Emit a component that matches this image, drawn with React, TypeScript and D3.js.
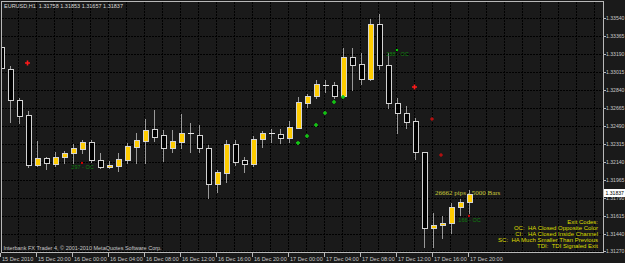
import React from 'react';
import * as d3 from 'd3';

const W = 625;
const H = 263;

// Heikin-Ashi style candles, EURUSD H1, 15 Dec 16:00 .. 17 Dec 20:00
const opens = [1.33258, 1.33043, 1.32741, 1.32595, 1.32108, 1.32176, 1.32118, 1.32186, 1.32225, 1.32264,
  1.32332, 1.32157, 1.32089, 1.32099, 1.32157, 1.32284, 1.32342, 1.32459, 1.32400, 1.32274,
  1.32332, 1.32420, 1.32400, 1.32274, 1.31923, 1.32030, 1.32313, 1.32157, 1.32118, 1.32362,
  1.32420, 1.32410, 1.32371, 1.32469, 1.32712, 1.32780, 1.32887, 1.32887, 1.32780, 1.33160,
  1.33092, 1.32946, 1.33482, 1.33082, 1.32712, 1.32615, 1.32537, 1.32235, 1.31495, 1.31524,
  1.31543, 1.31699, 1.31748];
const highs = [1.33374, 1.33072, 1.32761, 1.32634, 1.32342, 1.32186, 1.32235, 1.32245, 1.32313, 1.32352,
  1.32352, 1.32225, 1.32147, 1.32225, 1.32323, 1.32420, 1.32556, 1.32644, 1.32449, 1.32449,
  1.32605, 1.32517, 1.32498, 1.32303, 1.32060, 1.32352, 1.32352, 1.32186, 1.32391, 1.32439,
  1.32459, 1.32459, 1.32537, 1.32771, 1.32800, 1.32936, 1.32936, 1.32917, 1.33248, 1.33248,
  1.33199, 1.33530, 1.33579, 1.33199, 1.32761, 1.32683, 1.32566, 1.32235, 1.31641, 1.31612,
  1.31738, 1.31777, 1.31865];
const lows = [1.33034, 1.32527, 1.32517, 1.32089, 1.32099, 1.32069, 1.32099, 1.32128, 1.32128, 1.32225,
  1.32137, 1.32079, 1.32079, 1.32050, 1.32128, 1.32128, 1.32128, 1.32342, 1.32147, 1.32235,
  1.32274, 1.32235, 1.32235, 1.31787, 1.31845, 1.31943, 1.32108, 1.32040, 1.32099, 1.32284,
  1.32332, 1.32323, 1.32332, 1.32469, 1.32673, 1.32761, 1.32819, 1.32761, 1.32771, 1.32839,
  1.32897, 1.32936, 1.33043, 1.32663, 1.32420, 1.32469, 1.32167, 1.31310, 1.31310, 1.31397,
  1.31446, 1.31621, 1.31641];
const closes = [1.33053, 1.32741, 1.32586, 1.32108, 1.32176, 1.32128, 1.32186, 1.32225, 1.32274, 1.32332,
  1.32157, 1.32089, 1.32108, 1.32167, 1.32293, 1.32352, 1.32449, 1.32381, 1.32274, 1.32342,
  1.32420, 1.32420, 1.32274, 1.31923, 1.32040, 1.32313, 1.32137, 1.32118, 1.32362, 1.32420,
  1.32420, 1.32371, 1.32478, 1.32722, 1.32780, 1.32897, 1.32887, 1.32780, 1.33160, 1.33082,
  1.32946, 1.33482, 1.33082, 1.32712, 1.32615, 1.32527, 1.32235, 1.31495, 1.31524, 1.31543,
  1.31699, 1.31748, 1.31826];

const timeLabelBars = [0, 4, 8, 12, 16, 20, 24, 28, 32, 36, 40, 44, 48, 52];
const timeLabels = ['15 Dec 2010', '15 Dec 20:00', '16 Dec 00:00', '16 Dec 04:00', '16 Dec 08:00',
  '16 Dec 12:00', '16 Dec 16:00', '16 Dec 20:00', '17 Dec 00:00', '17 Dec 04:00', '17 Dec 08:00',
  '17 Dec 12:00', '17 Dec 16:00', '17 Dec 20:00'];

const priceTicks = [1.3354, 1.33365, 1.3319, 1.33015, 1.3284, 1.32665, 1.3249, 1.32315, 1.3214,
  1.31965, 1.3179, 1.31615, 1.3144, 1.3127];
const priceTickLabels = ['1.33540', '1.33365', '1.33190', '1.33015', '1.32840', '1.32665', '1.32490',
  '1.32315', '1.32140', '1.31965', '1.31790', '1.31615', '1.31440', '1.31270'];

const currentPrice = 1.31837;
const currentPriceLabel = '1.31837';
const titleText = 'EURUSD,H1  1.31758 1.31853 1.31657 1.31837';
const copyrightText = 'Interbank FX Trader 4, \u00a9 2001-2010 MetaQuotes Software Corp.';

// signal markers
const greenArrowBars = [33, 34, 35, 36, 37, 38];
const greenArrowPrices = [1.32323, 1.32391, 1.32498, 1.32615, 1.32722, 1.32771];
const redArrowBars = [3, 46];
const redArrowPrices = [1.33102, 1.32868];
const darkRedArrowBars = [48, 49];
const darkRedArrowPrices = [1.32556, 1.32206];

const exitBars = [9, 44, 52];
const exitPrices = [1.32128, 1.33228, 1.31612];
const exitTexts = ['297 - OC', '288 - OC', '166 - OC'];
const exitDotColors = ['#d00000', '#00d000', '#d00000'];

const statsBar = 48;
const statsPrice = 1.31865;
const statsText = '26662 pips - 5000 Bars';

const legendLines = ['Exit Codes:', 'OC:  HA Closed Opposite Color', 'CI:   HA Closed Inside Channel',
  'SC:  HA Much Smaller Than Previous', 'TDI:  TDI Signaled Exit'];

const SANS = '"Liberation Sans", Arial, sans-serif';
const SERIF = '"Liberation Serif", "Times New Roman", serif';

export default function App() {
  const left = 1, right = 603.5, top = 1, bottom = 252.5;
  const x = d3.scaleLinear().domain([0, 1]).range([1.5, 10.5]);
  const y = d3.scaleLinear().domain([1.3127, 1.3354]).range([251, 18]);
  const gridBars = d3.range(0, 68, 2);

  const bg = '#1a1a1a';
  const grid = '#000000';
  const frame = '#b8b8b8';
  const axisText = '#c8c8c8';

  const cross = (cx: number, cy: number, s: number) =>
    `M${cx - s},${cy}H${cx + s}M${cx},${cy - s}V${cy + s}`;

  return (
    <svg width={W} height={H} style={{ position: 'fixed', left: 0, top: 0, display: 'block' }}
      xmlns="http://www.w3.org/2000/svg">
      <defs>
        <clipPath id="plot">
          <rect x={left + 0.5} y={top + 0.5} width={right - left - 1} height={bottom - top - 1} />
        </clipPath>
      </defs>
      <rect x={0} y={0} width={W} height={H} fill={bg} />

      {/* grid */}
      <g stroke={grid} strokeDasharray="2 1" shapeRendering="crispEdges">
        {priceTicks.map((p, i) => (
          <line key={'h' + i} x1={left + 1} x2={right} y1={Math.round(y(p)) + 0.5} y2={Math.round(y(p)) + 0.5} />
        ))}
        {gridBars.filter((b) => x(b) < right && x(b) > left + 2).map((b) => (
          <line key={'v' + b} x1={Math.floor(x(b)) - 0.5} x2={Math.floor(x(b)) - 0.5} y1={top + 1} y2={bottom} />
        ))}
      </g>

      {/* texts under candles */}
      <text x={4} y={7.5} fontFamily={SANS} fontSize={5.5} fill="#d8d8d8" style={{ whiteSpace: 'pre' }}>{titleText}</text>
      <text x={3.5} y={249.5} fontFamily={SANS} fontSize={5.5} fill={axisText}>{copyrightText}</text>
      <text x={x(statsBar) + 1.5} y={y(statsPrice) + 5} fontFamily={SERIF} fontSize={7} fill="#cccc3a">{statsText}</text>

      <g clipPath="url(#plot)">
        {/* candles */}
        <g shapeRendering="crispEdges">
          {opens.map((o, i) => {
            const c = closes[i];
            const cx = Math.floor(x(i)) + 0.5;
            const yh = Math.round(y(highs[i]));
            const yl = Math.round(y(lows[i]));
            const yt = Math.round(y(Math.max(o, c)));
            const yb = Math.round(y(Math.min(o, c)));
            const bull = c > o;
            const doji = yt === yb;
            return (
              <g key={i}>
                <line x1={cx} x2={cx} y1={yh} y2={yl + 1} stroke="#9a9a9a" />
                {doji ? (
                  <line x1={cx - 3} x2={cx + 3} y1={yt + 0.5} y2={yt + 0.5} stroke="#e8e8e8" />
                ) : (
                  <rect x={cx - 2.5} y={yt + 0.5} width={5} height={yb - yt}
                    fill={bull ? '#ffcc00' : '#000000'} stroke="#d4d4d4" />
                )}
              </g>
            );
          })}
        </g>

        {/* arrows */}
        <g fill="none" strokeWidth={1.6}>
          {greenArrowBars.map((b, i) => (
            <path key={'g' + i} d={cross(x(b) - 0.5, y(greenArrowPrices[i]), 2)} stroke="#14c814" />
          ))}
          {redArrowBars.map((b, i) => (
            <path key={'r' + i} d={cross(x(b) - 1, y(redArrowPrices[i]), 2.5)} stroke="#ff1a1a" />
          ))}
          {darkRedArrowBars.map((b, i) => (
            <path key={'d' + i} d={cross(x(b) - 1.5, y(darkRedArrowPrices[i]), 1.8)} stroke="#b81010" />
          ))}
        </g>

        {/* exit labels */}
        {exitBars.map((b, i) => (
          <g key={'e' + i}>
            <text x={x(b)} y={y(exitPrices[i]) + 6} textAnchor="middle" fontFamily={SANS} fontSize={5.5}
              fill="#0f7f0f">{exitTexts[i]}</text>
            <rect x={x(b) - 1.5} y={y(exitPrices[i]) - 1} width={2} height={2} fill={exitDotColors[i]} />
          </g>
        ))}
      </g>

      {/* legend */}
      {legendLines.map((t, i) => (
        <text key={'l' + i} x={598} y={224 + i * 6} textAnchor="end" fontFamily={SANS} fontSize={6}
          fill="#dede00" style={{ whiteSpace: 'pre' }}>{t}</text>
      ))}

      {/* frame */}
      <rect x={left + 0.5} y={top + 0.5} width={right - left - 0.5} height={bottom - top - 0.5}
        fill="none" stroke={frame} shapeRendering="crispEdges" />

      {/* price axis */}
      <g shapeRendering="crispEdges">
        {priceTicks.map((p, i) => (
          <line key={'pt' + i} x1={right} x2={right + 2.5} y1={Math.round(y(p)) + 0.5} y2={Math.round(y(p)) + 0.5} stroke={frame} />
        ))}
      </g>
      {priceTicks.map((p, i) => (
        <text key={'pl' + i} x={606} y={y(p) + 2} fontFamily={SANS} fontSize={5.1} fill={axisText}>{priceTickLabels[i]}</text>
      ))}
      <rect x={604} y={Math.round(y(currentPrice)) - 4} width={21} height={8} fill="#ffffff" />
      <text x={605.5} y={y(currentPrice) + 2} fontFamily={SANS} fontSize={5.1} fill="#000000">{currentPriceLabel}</text>

      {/* time axis */}
      <g shapeRendering="crispEdges">
        {timeLabelBars.map((b, i) => (
          <line key={'tt' + i} x1={Math.floor(x(b)) - 0.5} x2={Math.floor(x(b)) - 0.5} y1={bottom} y2={bottom + 4} stroke={frame} />
        ))}
      </g>
      {timeLabelBars.map((b, i) => (
        <text key={'tl' + i} x={x(b) + 0.5} y={261} fontFamily={SANS} fontSize={5.5} fill={axisText}>{timeLabels[i]}</text>
      ))}
    </svg>
  );
}
